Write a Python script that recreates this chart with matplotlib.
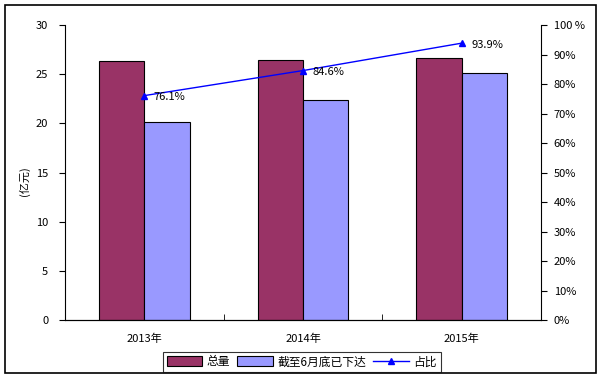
import numpy as np
import matplotlib
matplotlib.use("Agg")
import matplotlib.pyplot as plt
from matplotlib.patches import Rectangle

plt.rcParams['font.family'] = ['Noto Sans CJK SC', 'DejaVu Sans']
plt.rcParams['font.size'] = 8

""" DATA """

years = ["2013年", "2014年", "2015年"]
total = [26.4, 26.5, 26.7]
issued = [20.1, 22.4, 25.1]
ratio = [76.1, 84.6, 93.9]
ratio_labels = ["76.1%", "84.6%", "93.9%"]
left_ticks = [0, 5, 10, 15, 20, 25, 30]
right_ticks = [0, 10, 20, 30, 40, 50, 60, 70, 80, 90, 100]
right_labels = ["0%", "10%", "20%", "30%", "40%", "50%", "60%", "70%", "80%", "90%", "100 %"]

""" PLOT """

fig = plt.figure(figsize=(6, 3.81), dpi=100)
fig.patch.set_facecolor('white')
fig.patches.append(Rectangle((0.008, 0.022), 0.986, 0.965, transform=fig.transFigure,
                             fill=False, edgecolor='black', linewidth=1.2))

ax = fig.add_axes([0.108, 0.160, 0.794, 0.774])
x = np.arange(len(years))
w = 1 / 3.5

b1 = ax.bar(x - w / 2, total, w, color='#993366', edgecolor='black', linewidth=0.8, label='总量')
b2 = ax.bar(x + w / 2, issued, w, color='#9999FF', edgecolor='black', linewidth=0.8, label='截至6月底已下达')

ax.set_xlim(-0.5, 2.5)
ax.set_ylim(0, 30)
ax.set_yticks(left_ticks)
ax.set_xticks(x)
ax.set_xticklabels(years)
ax.tick_params(axis='x', length=0, pad=10)
ax.set_xticks([0.5, 1.5], minor=True)
ax.tick_params(axis='x', which='minor', direction='in', length=4)
ax.tick_params(axis='y', direction='out', length=4, pad=8)
ax.spines['top'].set_visible(False)
ax.spines['right'].set_visible(False)
ax.set_ylabel('(亿元)')
ax.yaxis.set_label_coords(-0.072, 0.47)

ax2 = ax.twinx()
ax2.set_ylim(0, 100)
ax2.set_yticks(right_ticks)
ax2.set_yticklabels(right_labels)
ax2.tick_params(axis='y', direction='out', length=4, pad=5)
ax2.spines['top'].set_visible(False)
ax2.spines['left'].set_visible(False)
line, = ax2.plot(x, ratio, color='blue', marker='^', markersize=4, linewidth=1, label='占比')
for xi, r, lab in zip(x, ratio, ratio_labels):
    ax2.annotate(lab, (xi, r), xytext=(7, -1), textcoords='offset points',
                 va='center', ha='left')

leg = fig.legend([b1, b2, line], ['总量', '截至6月底已下达', '占比'], loc='center',
                 bbox_to_anchor=(0.503, 0.05), ncol=3, frameon=True, fancybox=False,
                 edgecolor='black', handlelength=3.0, handleheight=0.9, handletextpad=0.4,
                 columnspacing=0.6, borderpad=0.3, fontsize=8.5)
leg.get_frame().set_linewidth(0.8)

fig.savefig('out.png', dpi=100)
